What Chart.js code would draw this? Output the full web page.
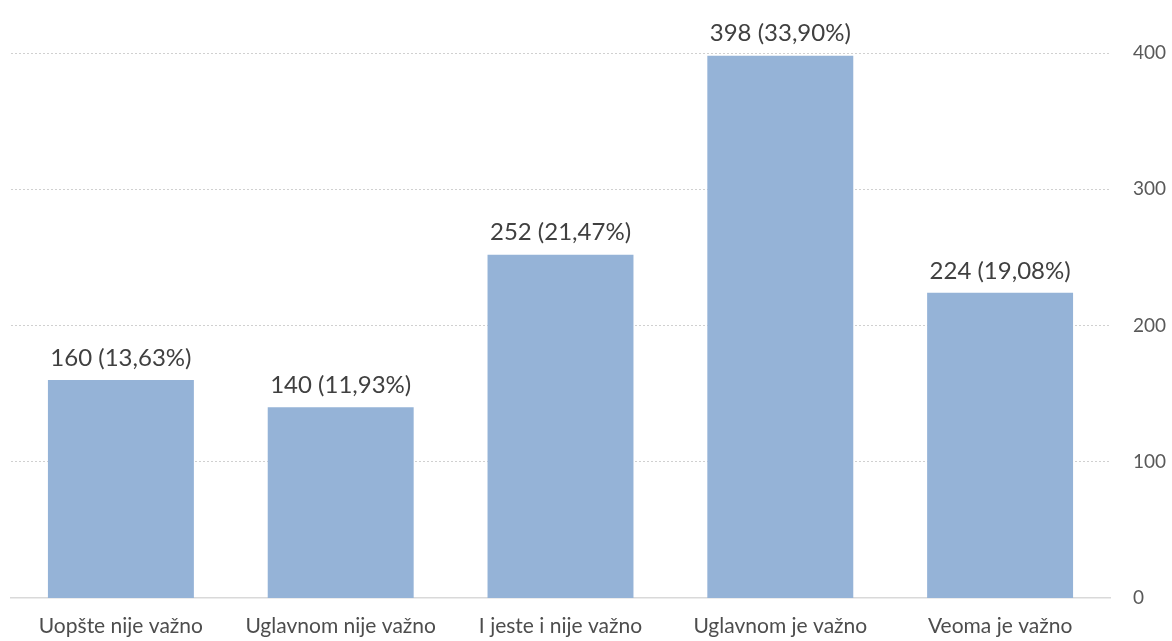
<!DOCTYPE html>
<html><head><meta charset="utf-8">
<script src="https://cdn.jsdelivr.net/npm/chart.js@4.4.0/dist/chart.umd.min.js"></script>
<style>html,body{margin:0;padding:0;background:#fff}#wrap{width:1172px;height:641px}</style>
</head><body><div id="wrap"><canvas id="c"></canvas></div>
<script>
const categories=['Uopšte nije važno','Uglavnom nije važno','I jeste i nije važno','Uglavnom je važno','Veoma je važno'];
const counts=[160,140,252,398,224];
const percents=['13,63%','11,93%','21,47%','33,90%','19,08%'];
const yTicks=[0,100,200,300,400];

const FONT='Lato';
// labels above bars
const barLabels={id:'barLabels',afterDatasetsDraw(chart){
  const ctx=chart.ctx;const meta=chart.getDatasetMeta(0);
  ctx.save();ctx.font='24px "'+FONT+'"';ctx.fillStyle='#404040';ctx.textAlign='center';ctx.textBaseline='bottom';
  meta.data.forEach((b,i)=>ctx.fillText(counts[i]+' ('+percents[i]+')',b.x,b.y-10));
  ctx.restore();
}};

new Chart(document.getElementById('c'),{
  type:'bar',
  data:{labels:categories,datasets:[{data:counts,backgroundColor:'#95b3d7',categoryPercentage:1,barPercentage:0.664}]},
  options:{responsive:true,maintainAspectRatio:false,animation:false,
    layout:{padding:{top:53,left:11,right:0,bottom:0}},
    plugins:{legend:{display:false},tooltip:{enabled:false}},
    scales:{
      x:{grid:{display:false,drawTicks:false},border:{color:'#d9d9d9',width:1.5},
        afterFit(ax){ax.height=43},
        ticks:{color:'#4d4d4d',font:{family:FONT,size:21},padding:16,maxRotation:0}},
      y:{position:'right',min:0,max:400,afterBuildTicks(ax){ax.ticks=yTicks.map(v=>({value:v}))},
        afterFit(ax){ax.width=62},
        border:{display:false,dash:[2,2]},
        grid:{color:'#d0d0d0',drawTicks:false,lineWidth:ctx=>ctx.tick.value===0?0:1},
        ticks:{color:'#595959',font:{family:FONT,size:19},padding:23}}
    }},
  plugins:[barLabels]
});
</script></body></html>
